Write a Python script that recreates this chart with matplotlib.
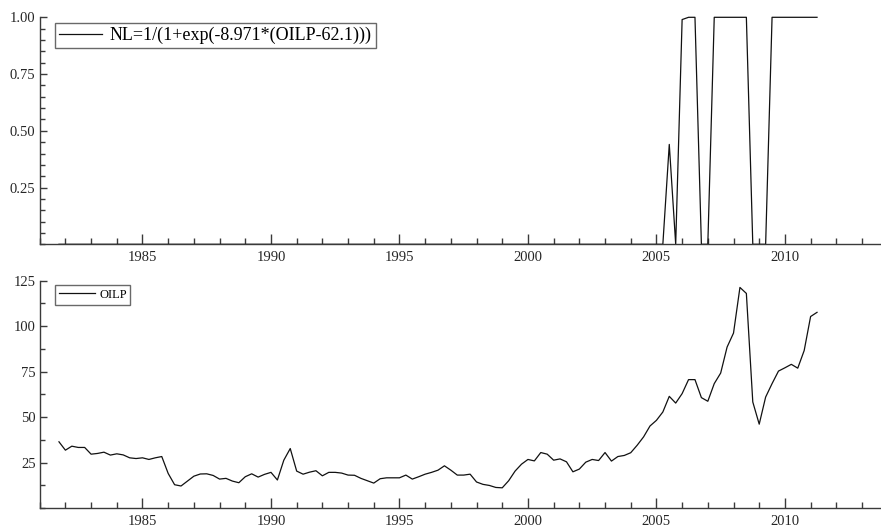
import numpy as np
import matplotlib
matplotlib.use("Agg")
import matplotlib.pyplot as plt
from matplotlib.ticker import MultipleLocator, FixedLocator, FormatStrFormatter

plt.rcParams['font.family'] = ['Liberation Serif', 'DejaVu Serif']

# quarterly data, 1981Q4 .. 2011Q2
start_year = 1981.75
oilp = [
    36.4,
    31.8, 34.0, 33.3, 33.3,
    29.6, 30.0, 30.7, 29.1,
    29.8, 29.2, 27.6, 27.2,
    27.6, 26.7, 27.6, 28.3,
    19.0, 12.8, 12.1, 14.8,
    17.5, 18.7, 18.8, 17.9,
    15.9, 16.3, 14.8, 13.9,
    17.2, 18.8, 17.0, 18.5,
    19.6, 15.4, 26.3, 32.7,
    20.3, 18.6, 19.7, 20.5,
    17.7, 19.6, 19.6, 19.2,
    18.1, 18.0, 16.3, 15.0,
    13.7, 16.1, 16.6, 16.6,
    16.6, 18.1, 15.9, 17.2,
    18.6, 19.6, 20.8, 23.2,
    20.8, 18.1, 18.1, 18.6,
    14.3, 13.0, 12.4, 11.3,
    11.1, 15.0, 20.3, 24.1,
    26.7, 25.9, 30.5, 29.6,
    26.3, 27.0, 25.4, 19.9,
    21.4, 25.2, 26.7, 26.1,
    30.5, 25.8, 28.3, 28.9,
    30.4, 34.5, 39.1, 45.1,
    48.2, 52.8, 61.4, 57.7,
    62.9, 70.6, 70.6, 60.7,
    58.7, 68.4, 74.2, 88.5,
    96.2, 121.3, 118.0, 58.3,
    46.1, 61.0, 68.4, 75.3,
    77.1, 79.0, 76.9, 86.6,
    105.3, 107.6,
]

nl = [
    0.0,
    0.0, 0.0, 0.0, 0.0,
    0.0, 0.0, 0.0, 0.0,
    0.0, 0.0, 0.0, 0.0,
    0.0, 0.0, 0.0, 0.0,
    0.0, 0.0, 0.0, 0.0,
    0.0, 0.0, 0.0, 0.0,
    0.0, 0.0, 0.0, 0.0,
    0.0, 0.0, 0.0, 0.0,
    0.0, 0.0, 0.0, 0.0,
    0.0, 0.0, 0.0, 0.0,
    0.0, 0.0, 0.0, 0.0,
    0.0, 0.0, 0.0, 0.0,
    0.0, 0.0, 0.0, 0.0,
    0.0, 0.0, 0.0, 0.0,
    0.0, 0.0, 0.0, 0.0,
    0.0, 0.0, 0.0, 0.0,
    0.0, 0.0, 0.0, 0.0,
    0.0, 0.0, 0.0, 0.0,
    0.0, 0.0, 0.0, 0.0,
    0.0, 0.0, 0.0, 0.0,
    0.0, 0.0, 0.0, 0.0,
    0.0, 0.0, 0.0, 0.0,
    0.0, 0.0, 0.0, 0.0,
    0.0, 0.0, 0.44, 0.0,
    0.99, 1.0, 1.0, 0.0,
    0.0, 1.0, 1.0, 1.0,
    1.0, 1.0, 1.0, 0.0,
    0.0, 0.0, 1.0, 1.0,
    1.0, 1.0, 1.0, 1.0,
    1.0, 1.0,
]

nl_label = "NL=1/(1+exp(-8.971*(OILP-62.1)))"
oilp_label = "OILP"
x_major = [1985, 1990, 1995, 2000, 2005, 2010]
top_yticks = [0.25, 0.50, 0.75, 1.00]
bot_yticks = [25, 50, 75, 100, 125]

dates = start_year + 0.25 * np.arange(len(oilp))

W, H = 881, 527
fig = plt.figure(figsize=(W / 100, H / 100), dpi=100)

left = 39.7 / W
width = (880.5 - 39.7) / W
ax1 = fig.add_axes([left, 1 - 244.3 / H, width, 227.0 / H])
ax2 = fig.add_axes([left, 1 - 508.0 / H, width, 227.3 / H])

spine_c = '#3a3a3a'
text_c = '#262626'
line_c = '#111111'

for ax in (ax1, ax2):
    for s in ('top', 'right'):
        ax.spines[s].set_visible(False)
    for s in ('left', 'bottom'):
        ax.spines[s].set_color(spine_c)
        ax.spines[s].set_linewidth(1.0)
    ax.set_xlim(1981.0, 2013.72)
    ax.xaxis.set_major_locator(FixedLocator(x_major))
    ax.xaxis.set_minor_locator(MultipleLocator(1))
    ax.tick_params(axis='x', which='major', direction='in', length=7, width=1.0,
                   color=spine_c, labelsize=10.5, labelcolor=text_c, pad=5)
    ax.tick_params(axis='x', which='minor', direction='in', length=4.5, width=1.0,
                   color=spine_c)
    ax.tick_params(axis='y', which='major', direction='in', length=5, width=1.0,
                   color=spine_c, labelsize=10.5, labelcolor=text_c, pad=3)
    ax.tick_params(axis='y', which='minor', direction='in', length=3.5, width=1.0,
                   color=spine_c)

ax1.plot(dates, nl, color=line_c, lw=0.9, label=nl_label, clip_on=False)
ax1.set_ylim(0, 1.0)
ax1.yaxis.set_major_locator(FixedLocator(top_yticks))
ax1.yaxis.set_major_formatter(FormatStrFormatter('%.2f'))
ax1.yaxis.set_minor_locator(MultipleLocator(0.05))

ax2.plot(dates, oilp, color=line_c, lw=0.9, label=oilp_label)
ax2.set_ylim(0, 125)
ax2.yaxis.set_major_locator(FixedLocator(bot_yticks))
ax2.yaxis.set_minor_locator(MultipleLocator(12.5))

leg1 = ax1.legend(loc='upper left', bbox_to_anchor=((55.3 - 39.7) / (880.5 - 39.7), 1 - (22.7 - 17.3) / 227.0),
                  fontsize=13, frameon=True, fancybox=False, handlelength=2.35,
                  borderpad=0.22, handletextpad=0.45, borderaxespad=0.0)
leg1.get_frame().set_edgecolor('#444444')
leg1.get_frame().set_linewidth(1.0)

leg2 = ax2.legend(loc='upper left', bbox_to_anchor=((55.3 - 39.7) / (880.5 - 39.7), 1 - (285.0 - 280.7) / 227.3),
                  fontsize=9, frameon=True, fancybox=False, handlelength=2.9,
                  borderpad=0.3, handletextpad=0.3, borderaxespad=0.0)
leg2.get_frame().set_edgecolor('#444444')
leg2.get_frame().set_linewidth(1.0)

fig.savefig('out.png', dpi=100)
